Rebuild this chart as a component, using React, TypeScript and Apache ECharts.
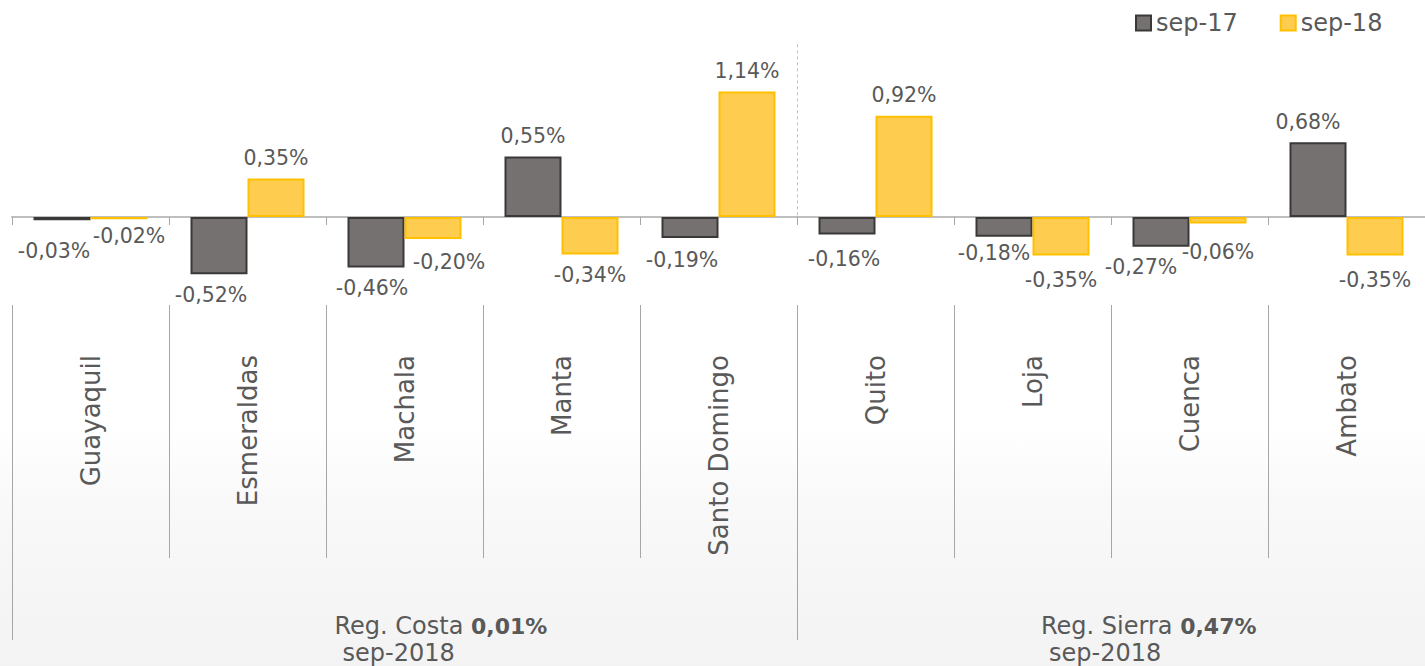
import React, { useEffect, useRef } from "react";
import * as echarts from "echarts";

const categories = ["Guayaquil", "Esmeraldas", "Machala", "Manta", "Santo Domingo", "Quito", "Loja", "Cuenca", "Ambato"];
const seriesNames = ["sep-17", "sep-18"];
const sep17 = [-0.03, -0.52, -0.46, 0.55, -0.19, -0.16, -0.18, -0.27, 0.68];
const sep18 = [-0.02, 0.35, -0.2, -0.34, 1.14, 0.92, -0.35, -0.06, -0.35];
const regionNames = ["Reg. Costa", "Reg. Sierra"];
const regionTotals = ["0,01%", "0,47%"];
const regionSizes = [5, 4];
const regionPeriod = "sep-2018";

// label nudges (x, y) in px, to mimic the reference's label placement
const nudge17: number[][] = [[-8, 10], [-8, 0], [-4, 0], [0, 0], [-8, 2], [-3, 4], [-10, -4], [-20, 0], [-10, 0]];
const nudge18: number[][] = [[10, -4], [0, 0], [16, 2], [0, 0], [0, 0], [0, 0], [0, 4], [0, 8], [0, 4]];

const FONT = "'DejaVu Sans', sans-serif";
const TEXT = "#595959";

const fmt = (v: number) => `${v.toFixed(2).replace(".", ",")}%`;

function buildData(values: number[], nudges: number[][]) {
  return values.map((v, i) => ({
    value: v,
    label: { position: v >= 0 ? "top" : "bottom", offset: nudges[i] },
  }));
}

export default function App() {
  const ref = useRef<HTMLDivElement>(null);
  useEffect(() => {
    if (!ref.current) return;
    const chart = echarts.init(ref.current, undefined, { renderer: "svg" });
    const labelCommon = {
      show: true,
      distance: 10,
      fontSize: 20.5,
      color: TEXT,
      fontFamily: FONT,
      formatter: (p: any) => fmt(p.value),
    };
    chart.setOption({
      animation: false,
      grid: { left: 12, top: 41, width: 1415, height: 264, containLabel: false },
      legend: {
        data: seriesNames,
        left: 1130,
        top: 6,
        itemWidth: 15,
        itemHeight: 15,
        itemGap: 42,
        icon: "rect",
        textStyle: { fontSize: 24, color: TEXT, fontFamily: FONT },
      },
      xAxis: {
        type: "category",
        data: categories,
        axisLine: { show: true, onZero: true, lineStyle: { color: "#bfbfbf", width: 2 } },
        axisTick: { show: true, interval: 0, length: 8, lineStyle: { color: "#a6a6a6", width: 1 } },
        axisLabel: {
          interval: 0,
          rotate: 90,
          margin: 50,
          fontSize: 26,
          color: TEXT,
          fontFamily: FONT,
        },
      },
      yAxis: {
        type: "value",
        min: -0.8,
        max: 1.6,
        show: false,
        splitLine: { show: false },
      },
      series: [
        {
          name: seriesNames[0],
          type: "bar",
          data: buildData(sep17, nudge17),
          barWidth: 57,
          barGap: "0%",
          itemStyle: { color: "#767171", borderColor: "#3b3838", borderWidth: 2 },
          label: labelCommon,
        },
        {
          name: seriesNames[1],
          type: "bar",
          data: buildData(sep18, nudge18),
          barWidth: 57,
          barGap: "0%",
          itemStyle: { color: "#fecc4f", borderColor: "#ffc000", borderWidth: 2 },
          label: labelCommon,
        },
      ],
    });

    // decorations derived from the axis scale
    const c0 = chart.convertToPixel({ xAxisIndex: 0 }, 0) as number;
    const c1 = chart.convertToPixel({ xAxisIndex: 0 }, 1) as number;
    const bw = c1 - c0;
    const left = c0 - bw / 2;
    const zeroY = chart.convertToPixel({ yAxisIndex: 0 }, 0) as number;
    const topY = chart.convertToPixel({ yAxisIndex: 0 }, 1.57) as number;
    const lineTop = zeroY + 88;
    const shortBottom = zeroY + 341;
    const longBottom = zeroY + 423;

    const groupStarts: number[] = [];
    let acc = 0;
    regionSizes.forEach((s) => {
      groupStarts.push(acc);
      acc += s;
    });

    const graphics: any[] = [];
    for (let k = 0; k <= categories.length; k++) {
      const x = Math.round(left + k * bw) + 0.5;
      const isGroup = groupStarts.includes(k);
      graphics.push({
        type: "line",
        shape: { x1: x, y1: lineTop, x2: x, y2: isGroup ? longBottom : shortBottom },
        style: { stroke: "#a6a6a6", lineWidth: 1 },
        silent: true,
      });
      if (isGroup && k > 0) {
        graphics.push({
          type: "line",
          shape: { x1: x, y1: topY, x2: x, y2: zeroY },
          style: { stroke: "#bfbfbf", lineWidth: 1, lineDash: [3, 3] },
          silent: true,
        });
      }
    }
    regionNames.forEach((name, gi) => {
      const center = left + (groupStarts[gi] + regionSizes[gi] / 2) * bw;
      const x = center - 70;
      graphics.push({
        type: "text",
        x,
        y: zeroY + 396,
        style: {
          text: `{n|${name} }{b|${regionTotals[gi]}}`,
          rich: {
            n: { fontSize: 24, fontFamily: FONT, fill: TEXT, lineHeight: 26 },
            b: { fontSize: 22, fontFamily: FONT, fill: TEXT, fontWeight: "bold", lineHeight: 26 },
          },
        },
        silent: true,
      });
      graphics.push({
        type: "text",
        x: x + 8,
        y: zeroY + 424,
        style: {
          text: regionPeriod,
          fontSize: 24,
          fontFamily: FONT,
          fill: TEXT,
        },
        silent: true,
      });
    });
    chart.setOption({ graphic: graphics });

    return () => chart.dispose();
  }, []);

  return (
    <div
      ref={ref}
      style={{
        position: "absolute",
        left: 0,
        top: 0,
        width: 1425,
        height: 666,
        background: "linear-gradient(to bottom, #ffffff 0%, #ffffff 64%, #f9f9f9 75%, #f3f3f3 100%)",
      }}
    />
  );
}
